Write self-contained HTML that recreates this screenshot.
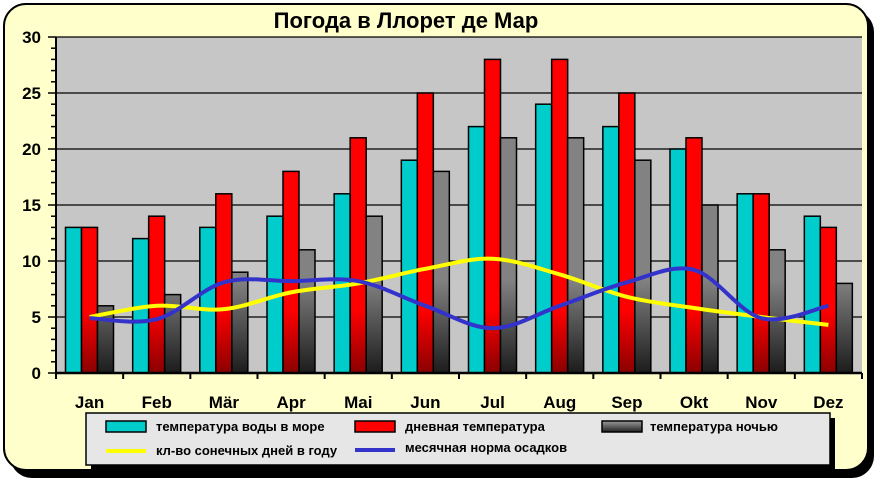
<!DOCTYPE html>
<html><head><meta charset="utf-8"><style>
html,body{margin:0;padding:0;background:#fff;}
svg{display:block;font-family:"Liberation Sans","DejaVu Sans",sans-serif;}
</style></head><body>
<svg width="881" height="483" viewBox="0 0 881 483" xmlns="http://www.w3.org/2000/svg">
<defs>
<linearGradient id="rg" gradientUnits="userSpaceOnUse" x1="0" y1="310" x2="0" y2="373">
<stop offset="0" stop-color="#ff0000"/><stop offset="1" stop-color="#8a0000"/></linearGradient>
<linearGradient id="gg" gradientUnits="userSpaceOnUse" x1="0" y1="280" x2="0" y2="373">
<stop offset="0" stop-color="#828282"/><stop offset="1" stop-color="#1c1c1c"/></linearGradient>
<linearGradient id="lg" x1="0" y1="0" x2="0" y2="1">
<stop offset="0" stop-color="#9a9a9a"/><stop offset="1" stop-color="#222"/></linearGradient>
</defs>
<rect x="10" y="10" width="864" height="468" rx="22" fill="#000"/>
<rect x="4" y="4" width="864" height="466" rx="22" fill="#ffffcc" stroke="#000" stroke-width="2"/>
<text x="406" y="28" text-anchor="middle" font-size="22" font-weight="bold">Погода в Ллорет де Мар</text>
<rect x="56" y="37" width="806" height="336" fill="#c6c6c6"/>
<g stroke="#000" stroke-width="1.3" id="grid"></g>
<g id="bars"></g>
<g id="lines"></g>
<g id="axes" stroke="#000"></g>
<g id="labels" font-weight="bold"></g>
<rect x="91" y="418" width="744" height="52" fill="#000"/>
<rect x="86" y="413" width="744" height="52" fill="#e6e6e6" stroke="#000" stroke-width="1.5"/>
<rect x="106" y="421" width="40" height="11" fill="#00cccc" stroke="#000" stroke-width="1.5"/>
<text x="156" y="431" font-size="13" font-weight="bold">температура воды в море</text>
<rect x="355" y="421" width="40" height="11" fill="#ff0000" stroke="#000" stroke-width="1.5"/>
<text x="405" y="431" font-size="13" font-weight="bold">дневная температура</text>
<rect x="602" y="421" width="40" height="11" fill="url(#lg)" stroke="#000" stroke-width="1.5"/>
<text x="650" y="431" font-size="13" font-weight="bold">температура ночью</text>
<line x1="106" y1="451" x2="146" y2="451" stroke="#ffff00" stroke-width="4"/>
<text x="156" y="455" font-size="13" font-weight="bold">кл-во сонечных дней в году</text>
<line x1="355" y1="450" x2="395" y2="450" stroke="#3333cc" stroke-width="4"/>
<text x="405" y="452" font-size="13" font-weight="bold">месячная норма осадков</text>
</svg>
<script>
const ns="http://www.w3.org/2000/svg";
function el(p,t,a,txt){const e=document.createElementNS(ns,t);for(const k in a)e.setAttribute(k,a[k]);if(txt!==undefined)e.textContent=txt;document.getElementById(p).appendChild(e);return e;}
const Y=v=>373-v*11.2, cw=806/12;
for(let v=5;v<=30;v+=5) el("grid","line",{x1:56,x2:862,y1:Y(v),y2:Y(v)});
const w=[13,12,13,14,16,19,22,24,22,20,16,14],d=[13,14,16,18,21,25,28,28,25,21,16,13],n=[6,7,9,11,14,18,21,21,19,15,11,8];
const months=["Jan","Feb","Mär","Apr","Mai","Jun","Jul","Aug","Sep","Okt","Nov","Dez"];
for(let i=0;i<12;i++){const x0=56+i*cw+9.5;
[[w,"#00cccc"],[d,"url(#rg)"],[n,"url(#gg)"]].forEach((s,j)=>{el("bars","rect",{x:x0+j*16,y:Y(s[0][i]),width:16,height:s[0][i]*11.2,fill:s[1],stroke:"#000","stroke-width":1.5});});
el("labels","text",{x:56+i*cw+cw/2,y:408,"text-anchor":"middle","font-size":17},months[i]);
el("axes","line",{x1:56+i*cw,x2:56+i*cw,y1:373,y2:379,"stroke-width":2});}
el("axes","line",{x1:862,x2:862,y1:373,y2:379,"stroke-width":2});
for(let v=0;v<=30;v++){el("axes","line",{x1:v%5?51:48,x2:56,y1:Y(v),y2:Y(v),"stroke-width":1.5});}
el("axes","line",{x1:56,x2:56,y1:37,y2:373,"stroke-width":2});
el("axes","line",{x1:56,x2:862,y1:373,y2:373,"stroke-width":2.5});
for(let v=0;v<=30;v+=5) el("labels","text",{x:41,y:Y(v)+6,"text-anchor":"end","font-size":17},v);
function curve(vals,col){const p=vals.map((v,i)=>[56+i*cw+cw/2,Y(v)]);let s="M"+p[0];
for(let i=0;i<p.length-1;i++){const p0=p[i-1]||p[i],p1=p[i],p2=p[i+1],p3=p[i+2]||p2;const t=6;
s+=` C${p1[0]+(p2[0]-p0[0])/t},${p1[1]+(p2[1]-p0[1])/t} ${p2[0]-(p3[0]-p1[0])/t},${p2[1]-(p3[1]-p1[1])/t} ${p2[0]},${p2[1]}`;}
el("lines","path",{d:s,fill:"none",stroke:col,"stroke-width":4});}
curve([5,6,5.7,7.2,8,9.3,10.2,8.8,6.8,5.8,5,4.3],"#ffff00");
curve([4.9,4.8,8.1,8.2,8.2,6,4,6,8.1,9.2,4.9,6],"#3333cc");
</script>
</body></html>
